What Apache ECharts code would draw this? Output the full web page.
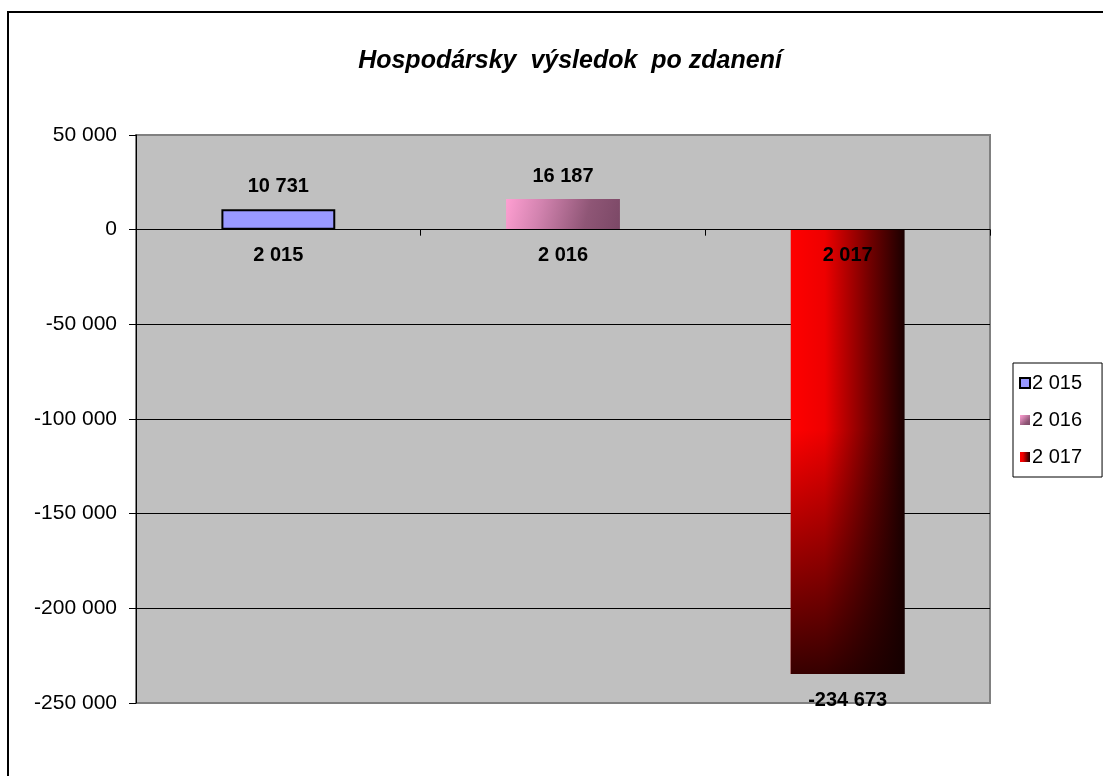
<!DOCTYPE html>
<html>
<head>
<meta charset="utf-8">
<script src="https://cdn.jsdelivr.net/npm/echarts@6/dist/echarts.min.js"></script>
<style>
  html, body { margin: 0; padding: 0; background: #fff; }
  #main { width: 1103px; height: 776px; }
</style>
</head>
<body>
<div id="main"></div>
<script>
var categories = ['2 015', '2 016', '2 017'];
var seriesNames = ['2 015', '2 016', '2 017'];
var values2015 = [10731, '-', '-'];
var values2016 = ['-', 16187, '-'];
var values2017 = ['-', '-', -234673];
var yMin = -250000, yMax = 50000, yStep = 50000;

// 50000 -> "50 000", -234673 -> "-234 673"
function fmt(v) {
    var s = String(Math.abs(v)).replace(/\B(?=(\d{3})+(?!\d))/g, ' ');
    return (v < 0 ? '-' : '') + s;
}

window.onload = function () {
    var myChart = echarts.init(document.getElementById('main'));
    var font = 'Arial, "Liberation Sans", sans-serif';
    var labelTop = {
        show: true, position: 'top', distance: 13,
        fontFamily: font, fontSize: 20, fontWeight: 'bold', color: '#000',
        formatter: function (p) { return fmt(p.value); }
    };
    // grid height and where zero sits, used to lift the category axis to the zero line
    var gridTop = 135, gridBottom = 73, gridH = 776 - gridTop - gridBottom;
    var zeroShift = gridH * (0 - yMin) / (yMax - yMin);
    var option = {
        animation: false,
        title: {
            text: 'Hospodársky  výsledok  po zdanení',
            left: 565, top: 44, textAlign: 'center',
            textStyle: { fontFamily: font, fontSize: 25, fontWeight: 'bold', fontStyle: 'italic', color: '#000' }
        },
        graphic: [{
            type: 'rect', z: -10,
            shape: { x: 8, y: 12, width: 1200, height: 900 },
            style: { fill: 'none', stroke: '#000', lineWidth: 2 }
        }],
        legend: {
            data: seriesNames,
            orient: 'vertical',
            left: 1013, top: 363,
            width: 88,
            padding: [10, 20, 10, 6],
            itemWidth: 10, itemHeight: 10, itemGap: 17,
            borderColor: '#000', borderWidth: 1,
            icon: 'rect',
            textStyle: { fontFamily: font, fontSize: 20, color: '#000', padding: [0, 0, 0, -3] }
        },
        grid: {
            left: 136, right: 113, top: gridTop, bottom: gridBottom,
            show: true, backgroundColor: '#c0c0c0',
            borderColor: '#808080', borderWidth: 2
        },
        xAxis: {
            type: 'category',
            data: categories,
            z: 5,
            offset: -zeroShift,
            axisLine: { onZero: false, lineStyle: { color: '#000', width: 1 } },
            axisTick: { show: true, length: 6, lineStyle: { color: '#000' } },
            axisLabel: { margin: 16, fontFamily: font, fontSize: 20, fontWeight: 'bold', color: '#000' },
            splitLine: { show: false }
        },
        yAxis: {
            type: 'value',
            min: yMin, max: yMax, interval: yStep,
            axisLine: { show: true, lineStyle: { color: '#000', width: 1 } },
            axisTick: { show: true, length: 7, lineStyle: { color: '#000' } },
            axisLabel: {
                margin: 19, fontFamily: font, fontSize: 21, color: '#000',
                formatter: fmt
            },
            splitLine: { show: true, showMinLine: false, showMaxLine: false, lineStyle: { color: '#000', width: 1 } }
        },
        series: [
            {
                name: seriesNames[0], type: 'bar', data: values2015,
                barWidth: '40%', barGap: '-100%',
                itemStyle: { color: '#9999ff', borderColor: '#000', borderWidth: 2 },
                label: labelTop
            },
            {
                name: seriesNames[1], type: 'bar', data: values2016,
                barWidth: '40%', barGap: '-100%',
                itemStyle: {
                    color: new echarts.graphic.LinearGradient(0, 0, 1, 1, [
                        { offset: 0, color: '#ff9fd2' },
                        { offset: 0.3, color: '#d283af' },
                        { offset: 0.7, color: '#8f5676' },
                        { offset: 1, color: '#7b4866' }
                    ])
                },
                label: labelTop
            },
            {
                name: seriesNames[2], type: 'bar', data: values2017,
                barWidth: '40%', barGap: '-100%',
                itemStyle: {
                    color: new echarts.graphic.LinearGradient(0, 0, 1, 0, [
                        { offset: 0, color: '#ff0000' },
                        { offset: 0.3, color: '#ee0000' },
                        { offset: 0.7, color: '#700000' },
                        { offset: 1, color: '#1a0000' }
                    ])
                },
                label: {
                    show: true, position: 'bottom', distance: 17,
                    fontFamily: font, fontSize: 20, fontWeight: 'bold', color: '#000',
                    formatter: function (p) { return fmt(p.value); }
                }
            },
            {
                // dark shading toward the bottom of the 2017 bar
                name: 'shade', type: 'bar', data: values2017,
                barWidth: '40%', barGap: '-100%', silent: true,
                itemStyle: {
                    color: new echarts.graphic.LinearGradient(0, 0, 0, 1, [
                        { offset: 0, color: 'rgba(20,0,0,0)' },
                        { offset: 0.45, color: 'rgba(20,0,0,0)' },
                        { offset: 1, color: 'rgba(20,0,0,0.85)' }
                    ])
                }
            }
        ]
    };
    myChart.setOption(option);
};
</script>
</body>
</html>
